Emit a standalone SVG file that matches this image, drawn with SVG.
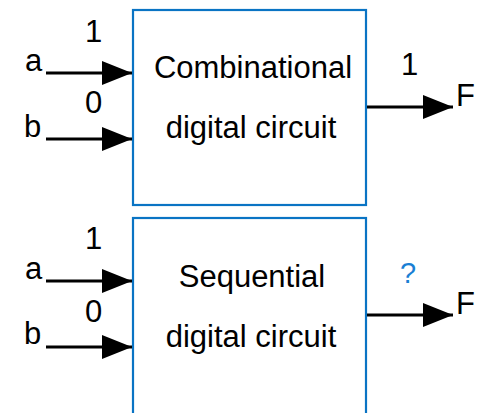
<svg xmlns="http://www.w3.org/2000/svg" width="478" height="413" viewBox="0 0 478 413">
<style>
.box{fill:#fff;stroke:#0a74c4;stroke-width:2.2}
.t{font-family:"Liberation Sans",Arial,sans-serif;font-size:31px;fill:#000}
.c{text-anchor:middle}
.w{stroke:#000;stroke-width:3;fill:none}
.q{font-family:"Liberation Sans",Arial,sans-serif;font-size:29px;fill:#1a7fd4}
</style>
<defs>
<marker id="ah" markerWidth="30" markerHeight="24" refX="30" refY="12" orient="auto" markerUnits="userSpaceOnUse">
<path d="M0,0 L30,12 L0,24 Z" fill="#000"/>
</marker>
</defs>
<rect width="478" height="413" fill="#fff"/>
<g id="comb">
<rect class="box" x="133" y="10" width="233" height="195"/>
<text class="t c" x="253" y="78">Combinational</text>
<text class="t c" x="251" y="138">digital circuit</text>
</g>
<g id="seq">
<rect class="box" x="133" y="218" width="233" height="205"/>
<text class="t c" x="252" y="287">Sequential</text>
<text class="t c" x="251" y="347">digital circuit</text>
</g>
<g id="labels">
<text class="t" x="25" y="71">a</text>
<text class="t" x="24" y="137">b</text>
<text class="t" x="85" y="42">1</text>
<text class="t" x="85" y="113">0</text>
<text class="t" x="401" y="75">1</text>
<text class="t" x="456" y="106">F</text>
<text class="t" x="25" y="279">a</text>
<text class="t" x="24" y="344">b</text>
<text class="t" x="85" y="249">1</text>
<text class="t" x="85" y="322">0</text>
<text class="q" x="400" y="283">?</text>
<text class="t" x="456" y="314">F</text>
</g>
<g id="connectors">
<line class="w" x1="46" y1="73" x2="132" y2="73" marker-end="url(#ah)"/>
<line class="w" x1="46" y1="139" x2="132" y2="139" marker-end="url(#ah)"/>
<line class="w" x1="367" y1="107" x2="453" y2="107" marker-end="url(#ah)"/>
<line class="w" x1="46" y1="281" x2="132" y2="281" marker-end="url(#ah)"/>
<line class="w" x1="46" y1="347" x2="132" y2="347" marker-end="url(#ah)"/>
<line class="w" x1="367" y1="315" x2="453" y2="315" marker-end="url(#ah)"/>
</g>
</svg>
